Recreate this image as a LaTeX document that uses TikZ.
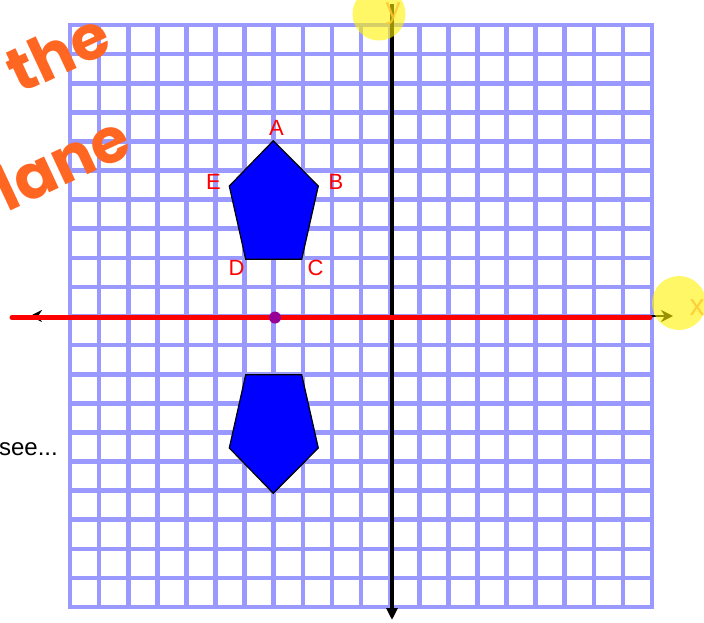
\documentclass[tikz,border=0pt]{standalone}
\usepackage{fontspec}
\setmainfont{Liberation Sans}
\newfontfamily\titlefont{Poppins}
\usetikzlibrary{
  arrows.meta,
  positioning, calc
}
\definecolor{gridblue}{RGB}{153,153,255}
\definecolor{titleorange}{RGB}{255,102,34}
\definecolor{axisyellow}{RGB}{255,200,50}
\definecolor{mirrorpurple}{RGB}{150,0,150}
\tikzset{
  gridline/.style={draw=gridblue,line width=4.6pt,line cap=rect},
  axisline/.style={draw=black,line width=3.5pt,-{Triangle[length=12pt,width=11pt]}},
  xaxisline/.style={draw=black,line width=2.5pt,{Stealth[length=12pt,width=12pt]}-{Stealth[length=12pt,width=12pt]}},
  mirrorline/.style={draw=red,line width=5pt,line cap=round},
  pentagon/.style={fill=blue,draw=black,line width=1.2pt,line join=miter},
  vlabel/.style={text=red,font=\fontsize{22}{24}\selectfont,inner sep=0pt},
  halo/.style={fill=yellow,fill opacity=0.6,draw=none},
  axlabel/.style={text=axisyellow,font=\fontsize{30}{32}\selectfont,inner sep=0pt,opacity=0.85},
  titletext/.style={text=titleorange,font=\titlefont\bfseries\fontsize{62}{62}\selectfont,
    rotate=25,inner sep=0pt},
  mirrordot/.style={circle,fill=mirrorpurple,minimum size=12pt,inner sep=0pt}
}

\begin{document}
\begin{tikzpicture}[x=1pt,y=-1pt]

  \useasboundingbox (0,0) rectangle (704,622);
  \clip (0,0) rectangle (704,622);

  % Grid
  \foreach \i in {0,...,20}{
    \draw[gridline] ({70+\i*29.1},25) -- ({70+\i*29.1},607);
    \draw[gridline] (70,{25+\i*29.1}) -- (652,{25+\i*29.1});
  }

  % Title
  \node[titletext] (title1) at (58,52) {the};
  \node[titletext] (title2) at (62,162) {lane};

  % Axes
  \coordinate (ytop) at (392,4);
  \coordinate (ybot) at (392,620);
  \coordinate (xleft) at (30,316);
  \coordinate (xright) at (673,316);
  \coordinate (mleft) at (12,317.5);
  \coordinate (mright) at (650,317.5);
  \draw[axisline] (ytop) -- (ybot);
  \draw[xaxisline] (xleft) -- (xright);
  \draw[mirrorline] (mleft) -- (mright);
  \node[mirrordot] (mirror) at (275,317.5) {};

  % Pentagon and its image
  \coordinate (A) at (273.3,140.7);
  \coordinate (B) at (318.3,186);
  \coordinate (C) at (301.7,259.3);
  \coordinate (D) at (245.7,259.3);
  \coordinate (E) at (229.3,186);
  \draw[pentagon] (A) -- (B) -- (C) -- (D) -- (E) -- cycle;
  \coordinate (A1) at (273.3,493.3);
  \coordinate (B1) at (318.3,448);
  \coordinate (C1) at (301.7,374.7);
  \coordinate (D1) at (245.7,374.7);
  \coordinate (E1) at (229.3,448);
  \draw[pentagon] (A1) -- (B1) -- (C1) -- (D1) -- (E1) -- cycle;

  \node[vlabel] (labA) at (276.5,128) {A};
  \node[vlabel] (labB) at (336,182) {B};
  \node[vlabel] (labC) at (315.5,268) {C};
  \node[vlabel] (labD) at (236.5,268) {D};
  \node[vlabel] (labE) at (213.5,181.5) {E};

  \node[font=\fontsize{24}{26}\selectfont,anchor=base east,inner sep=0pt] (seetext) at (58,455) {see...};

  % Axis labels
  \fill[halo] (379,14) circle (26.5);
  \fill[halo] (679,303) circle (27);
  \node[axlabel] (ylab) at (393,14) {y};
  \node[axlabel] (xlab) at (697,308) {x};

\end{tikzpicture}
\end{document}
